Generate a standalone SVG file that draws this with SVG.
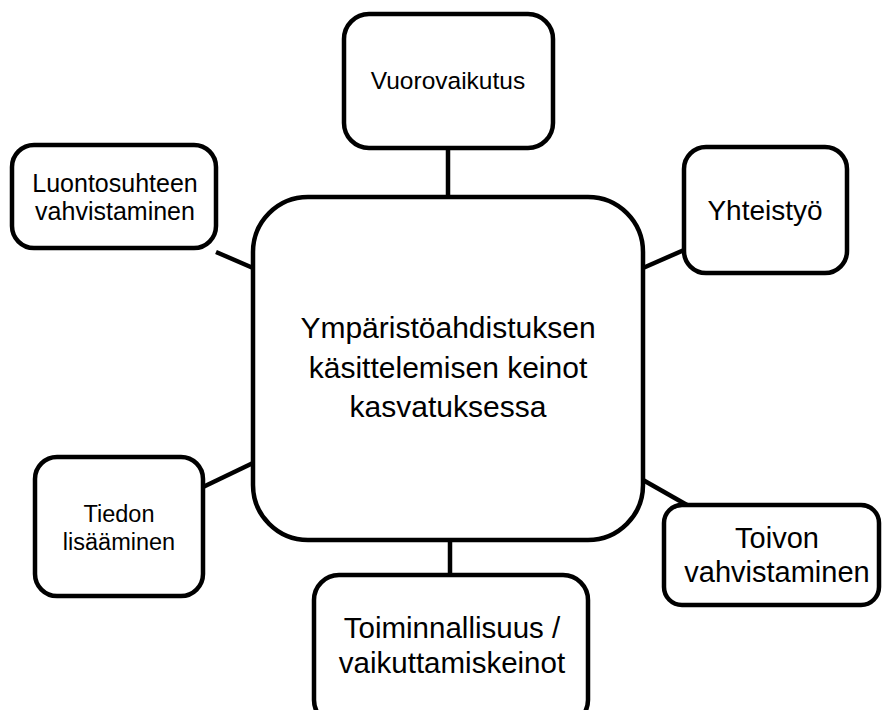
<svg xmlns="http://www.w3.org/2000/svg" width="882" height="710" viewBox="0 0 882 710">
<style>
.box{fill:#fff;stroke:#000;stroke-width:4.5}
.con{stroke:#000;stroke-width:4.5;fill:none}
text{font-family:"Liberation Sans",Arial,sans-serif;fill:#000;text-anchor:middle}
</style>
<rect width="882" height="710" fill="#fff"/>
<g id="connectors">
<line class="con" x1="448" y1="148" x2="448" y2="197"/>
<line class="con" x1="643" y1="268" x2="684" y2="250"/>
<line class="con" x1="643" y1="480" x2="687" y2="505"/>
<line class="con" x1="450" y1="540" x2="450" y2="575"/>
<line class="con" x1="216" y1="252" x2="253" y2="268"/>
<line class="con" x1="203" y1="487" x2="253" y2="463"/>
</g>
<g id="center">
<rect class="box" x="253" y="197" width="390" height="343" rx="55"/>
<text x="448" y="338" font-size="30">Ympäristöahdistuksen</text>
<text x="448" y="378" font-size="30">käsittelemisen keinot</text>
<text x="448" y="417" font-size="30">kasvatuksessa</text>
</g>
<g id="vuorovaikutus">
<rect class="box" x="344" y="14" width="209" height="134" rx="25"/>
<text x="448" y="89" font-size="24.5">Vuorovaikutus</text>
</g>
<g id="yhteistyo">
<rect class="box" x="684" y="147" width="163" height="126" rx="22"/>
<text x="765" y="220" font-size="28">Yhteistyö</text>
</g>
<g id="toivon">
<rect class="box" x="664" y="505" width="215" height="100" rx="18"/>
<text x="777" y="548" font-size="29">Toivon</text>
<text x="777" y="582" font-size="29">vahvistaminen</text>
</g>
<g id="toiminnallisuus">
<rect class="box" x="314" y="575" width="274" height="150" rx="25"/>
<text x="452" y="638" font-size="29.5">Toiminnallisuus /</text>
<text x="452" y="673" font-size="29.5">vaikuttamiskeinot</text>
</g>
<g id="luontosuhde">
<rect class="box" x="12" y="145" width="204" height="103" rx="22"/>
<text x="115" y="192" font-size="25">Luontosuhteen</text>
<text x="115" y="220" font-size="25">vahvistaminen</text>
</g>
<g id="tiedon">
<rect class="box" x="35" y="457" width="168" height="139" rx="22"/>
<text x="119" y="522" font-size="23.5">Tiedon</text>
<text x="119" y="550" font-size="23.5">lisääminen</text>
</g>
</svg>
